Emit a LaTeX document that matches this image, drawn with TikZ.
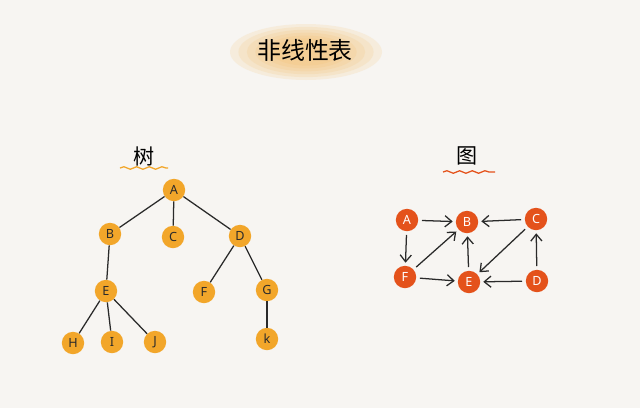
\documentclass[tikz,border=0pt]{standalone}
\usepackage{fontspec}
\setmainfont{Noto Sans}
\newfontfamily\cjk{Noto Sans CJK SC}
\usetikzlibrary{arrows.meta,decorations.pathmorphing}
\definecolor{paper}{HTML}{F7F5F2}
\definecolor{treeorange}{HTML}{F2A62A}
\definecolor{graphred}{HTML}{E4521B}
\definecolor{ink}{HTML}{2A2A2A}
\definecolor{blob}{HTML}{F4B95C}
\begin{document}
\begin{tikzpicture}
[x=0.025cm, y=-0.025cm, font=\small]

\tikzstyle{treenode}=[circle, fill=treeorange, text=ink, inner sep=0mm, minimum size=5.6mm, font=\small]
\tikzstyle{graphnode}=[circle, fill=graphred, text=white, inner sep=0mm, minimum size=5.6mm, font=\small]
\tikzstyle{link}=[draw=ink, line width=0.9pt]
\tikzstyle{arc}=[draw=ink, line width=0.9pt, -{Straight Barb[length=1.7mm, width=2.8mm]}, shorten >=2pt, shorten <=2.5pt]
\tikzstyle{wave}=[line width=0.9pt, decorate, decoration={snake, amplitude=0.9pt, segment length=9pt}]

\useasboundingbox[fill=paper] (0,0) rectangle (640,408);

% title
\foreach \r in {1.00,0.88,0.76,0.64,0.52,0.40}
  \fill[blob, opacity=0.14] (306,52) ellipse ({70*\r+6} and {24*\r+4});
\node (title) at (305,50) {\cjk\fontsize{17}{17}\selectfont 非线性表};

% tree
\node (treelabel) at (144,156) {\cjk\fontsize{15}{15}\selectfont 树};
\coordinate (tw1) at (120,168);
\coordinate (tw2) at (168,168);
\draw[wave, treeorange] (tw1) -- (tw2);

\node[treenode]	(A)	at (174,190)	{A};
\node[treenode]	(B)	at (110,234)	{B};
\node[treenode]	(C)	at (173,237)	{C};
\node[treenode]	(D)	at (240,236)	{D};
\node[treenode]	(E)	at (106,291)	{E};
\node[treenode]	(F)	at (204,292)	{F};
\node[treenode]	(G)	at (267,290)	{G};
\node[treenode]	(H)	at (73,343)	{H};
\node[treenode]	(I)	at (112,342)	{I};
\node[treenode]	(J)	at (155,342)	{J};
\node[treenode]	(K)	at (267,339)	{k};

\draw [link] (A)--(B);
\draw [link] (A)--(C);
\draw [link] (A)--(D);
\draw [link] (B)--(E);
\draw [link] (D)--(F);
\draw [link] (D)--(G);
\draw [link] (E)--(H);
\draw [link] (E)--(I);
\draw [link] (E)--(J);
\draw [link] (G)--(K);

% graph
\node (graphlabel) at (467,156) {\cjk\fontsize{15}{15}\selectfont 图};
\coordinate (gw1) at (443,172);
\coordinate (gw2) at (495,172);
\draw[wave, graphred] (gw1) -- (gw2);

\node[graphnode]	(GA)	at (407,220)	{A};
\node[graphnode]	(GB)	at (467,222)	{B};
\node[graphnode]	(GC)	at (536,219)	{C};
\node[graphnode]	(GF)	at (405,277)	{F};
\node[graphnode]	(GE)	at (469,282)	{E};
\node[graphnode]	(GD)	at (537,281)	{D};

\draw [arc] (GA)--(GB);
\draw [arc] (GC)--(GB);
\draw [arc] (GA)--(GF);
\draw [arc] (GF)--(GB);
\draw [arc] (GE)--(GB);
\draw [arc] (GC)--(GE);
\draw [arc] (GF)--(GE);
\draw [arc] (GD)--(GE);
\draw [arc] (GD)--(GC);
\end{tikzpicture}
\end{document}
